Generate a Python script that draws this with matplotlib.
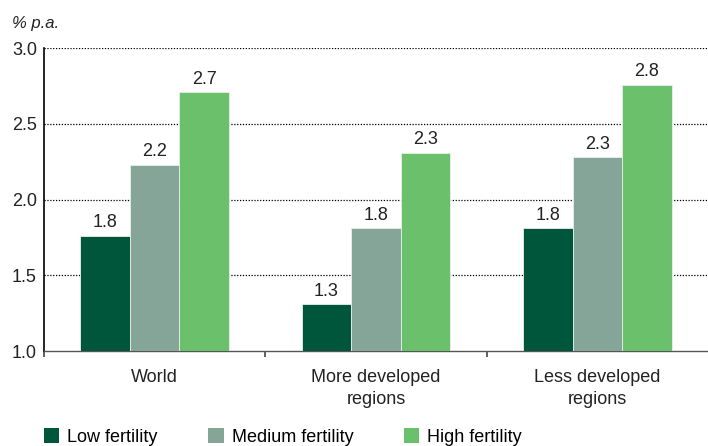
import numpy as np
import matplotlib
matplotlib.use('Agg')
import matplotlib.pyplot as plt
from matplotlib.patches import Patch

plt.rcParams['font.family'] = ['Liberation Sans', 'DejaVu Sans']

categories = ['World', 'More developed\nregions', 'Less developed\nregions']
series = ['Low fertility', 'Medium fertility', 'High fertility']
low = [1.76, 1.31, 1.81]
medium = [2.23, 1.81, 2.28]
high = [2.71, 2.31, 2.76]
labels_low = ['1.8', '1.3', '1.8']
labels_medium = ['2.2', '1.8', '2.3']
labels_high = ['2.7', '2.3', '2.8']
colors = ['#00563b', '#84a598', '#6bc16b']

fig = plt.figure(figsize=(7.08, 4.46), dpi=100)
ax = fig.add_axes([0.062, 0.213, 0.938, 0.679])

x = np.arange(len(categories))
w = 0.224
vals = [low, medium, high]
labs = [labels_low, labels_medium, labels_high]
for i in range(3):
    bars = ax.bar(x + (i - 1) * w, vals[i], w, bottom=0, color=colors[i],
                  edgecolor='#e8f0ea', linewidth=0.6, zorder=3)
    for b, t in zip(bars, labs[i]):
        ax.text(b.get_x() + b.get_width() / 2, b.get_height() + 0.03, t,
                ha='center', va='bottom', fontsize=13, color='#222222')

ax.set_ylim(1.0, 3.0)
ax.set_xlim(-0.5, 2.5)
ax.set_yticks([1.0, 1.5, 2.0, 2.5, 3.0])
ax.set_yticklabels(['1.0', '1.5', '2.0', '2.5', '3.0'], fontsize=13, color='#222222')
for yv in [1.5, 2.0, 2.5, 3.0]:
    ax.axhline(yv, color='black', linestyle=(0, (1, 1.3)), linewidth=0.9, zorder=1)
ax.tick_params(axis='y', length=0, pad=5)

ax.set_xticks(x)
ax.set_xticklabels(categories, fontsize=13, color='#222222', linespacing=1.35)
ax.set_xticks([-0.5, 0.5, 1.5], minor=True)
ax.tick_params(axis='x', which='major', length=0, pad=13)
ax.tick_params(axis='x', which='minor', length=4, color='#444444', width=1.2)

for s in ['top', 'right']:
    ax.spines[s].set_visible(False)
ax.spines['left'].set_color('black')
ax.spines['left'].set_linewidth(1.2)
ax.spines['bottom'].set_color('#555555')
ax.spines['bottom'].set_linewidth(1.0)

fig.text(0.017, 0.937, '% p.a.', fontsize=12, style='italic', color='#222222')

handles = [Patch(facecolor=c, edgecolor='none') for c in colors]
fig.legend(handles, series, loc='lower left', bbox_to_anchor=(0.039, -0.036), ncol=3,
           frameon=False, fontsize=13, handlelength=0.85, handleheight=0.85,
           handletextpad=0.45, columnspacing=2.8)

fig.savefig('out.png', dpi=100)
